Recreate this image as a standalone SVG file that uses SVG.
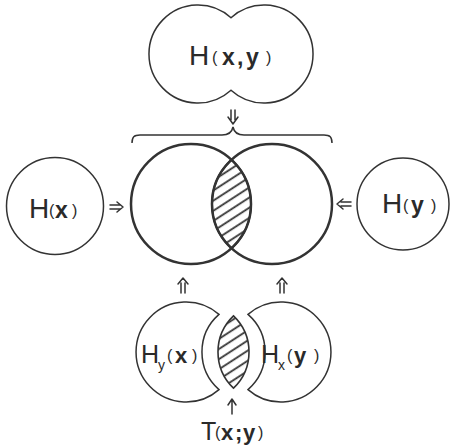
<svg xmlns="http://www.w3.org/2000/svg" width="452" height="447" viewBox="0 0 452 447">
<defs>
<pattern id="hatch" patternUnits="userSpaceOnUse" width="8.5" height="8.5" patternTransform="rotate(-33)">
<line x1="0" y1="4" x2="8.5" y2="4" stroke="#333" stroke-width="1.8"/>
</pattern>
<style>
.o{fill:none;stroke:#333;stroke-width:1.5}
.m{fill:none;stroke:#333;stroke-width:2.5}
.h{fill:url(#hatch);stroke:#333;stroke-width:2}
.a{fill:none;stroke:#333;stroke-width:1.5;stroke-linecap:round;stroke-linejoin:round}
text{font-family:"Liberation Sans",Arial,sans-serif;fill:#2a2a2a}
.H{font-size:28px}
.Hs{font-size:25px}
.p{font-size:16px}
.b{font-size:23px;font-weight:bold}
.bs{font-size:22px;font-weight:bold}
.sub{font-size:14px}
</style>
</defs>
<rect width="452" height="447" fill="#fff"/>
<g id="Hxy">
<path class="o" d="M231,17.8 A49,49 0 1,0 231,90.2 A49,49 0 1,0 231,17.8 Z"/>
<text y="65"><tspan class="H" x="189">H</tspan><tspan class="p" x="212" y="63">(</tspan><tspan class="b" x="222" y="65">x</tspan><tspan class="b" x="237">,</tspan><tspan class="b" x="246">y</tspan><tspan class="p" x="266" y="63">)</tspan></text>
</g>
<g id="venn">
<circle class="m" cx="191" cy="204" r="60"/>
<circle class="m" cx="272" cy="204" r="60"/>
<path class="h" d="M231.5,159.7 A60,60 0 0,1 231.5,248.3 A60,60 0 0,1 231.5,159.7 Z"/>
</g>
<g id="Hx">
<circle class="o" cx="55" cy="206" r="48.5"/>
<text y="218"><tspan class="H" x="29">H</tspan><tspan class="p" x="49" y="216">(</tspan><tspan class="b" x="55" y="218">x</tspan><tspan class="p" x="72" y="216">)</tspan></text>
</g>
<g id="Hy">
<circle class="o" cx="403" cy="204" r="46"/>
<text y="213"><tspan class="H" x="382">H</tspan><tspan class="p" x="403" y="211">(</tspan><tspan class="b" x="411" y="213">y</tspan><tspan class="p" x="431" y="211">)</tspan></text>
</g>
<g id="Hyx">
<path class="o" d="M219,314.4 A50,50 0 1,0 219,389.6 A50,50 0 0,1 219,314.4 Z"/>
<text y="363"><tspan class="Hs" x="141">H</tspan><tspan class="sub" x="158" y="370">y</tspan><tspan class="p" x="167" y="361">(</tspan><tspan class="bs" x="175" y="363">x</tspan><tspan class="p" x="192" y="361">)</tspan></text>
</g>
<g id="T">
<path class="h" d="M233.5,315.8 A50,50 0 0,1 233.5,388.2 A50,50 0 0,1 233.5,315.8 Z" style="stroke-width:1.6"/>
<text y="440"><tspan class="Hs" x="201">T</tspan><tspan class="p" x="215" y="438">(</tspan><tspan class="bs" x="221" y="440">x</tspan><tspan class="bs" x="235">;</tspan><tspan class="bs" x="243">y</tspan><tspan class="p" x="258" y="438">)</tspan></text>
</g>
<g id="Hxy2">
<path class="o" d="M248,314.4 A50,50 0 1,1 248,389.6 A50,50 0 0,0 248,314.4 Z"/>
<text y="363"><tspan class="Hs" x="261">H</tspan><tspan class="sub" x="278" y="370">x</tspan><tspan class="p" x="287" y="361">(</tspan><tspan class="bs" x="294" y="363">y</tspan><tspan class="p" x="314" y="361">)</tspan></text>
</g>
<g id="connectors">
<path class="o" d="M132,143 C132,137 134,135 140,135 L222,135 C229,135 232,132 233,127 C234,132 237,135 244,135 L324,135 C330,135 332,137 332,143"/>
<path class="a" d="M231,110 L231,120 M235,110 L235,120 M228,117 L233,124 L238,117"/>
<path class="a" d="M110,205 L120,205 M110,209 L120,209 M117,202 L123,207 L117,212"/>
<path class="a" d="M341,202 L351,202 M341,206 L351,206 M343,199 L337,204 L343,209"/>
<path class="a" d="M181,283 L181,293 M185,283 L185,293 M178,284 L183,278 L188,284"/>
<path class="a" d="M280,283 L280,293 M284,283 L284,293 M277,284 L282,278 L287,284"/>
<path class="a" d="M232,400 L232,414 M228,405 L232,399 L236,405"/>
</g>
</svg>
